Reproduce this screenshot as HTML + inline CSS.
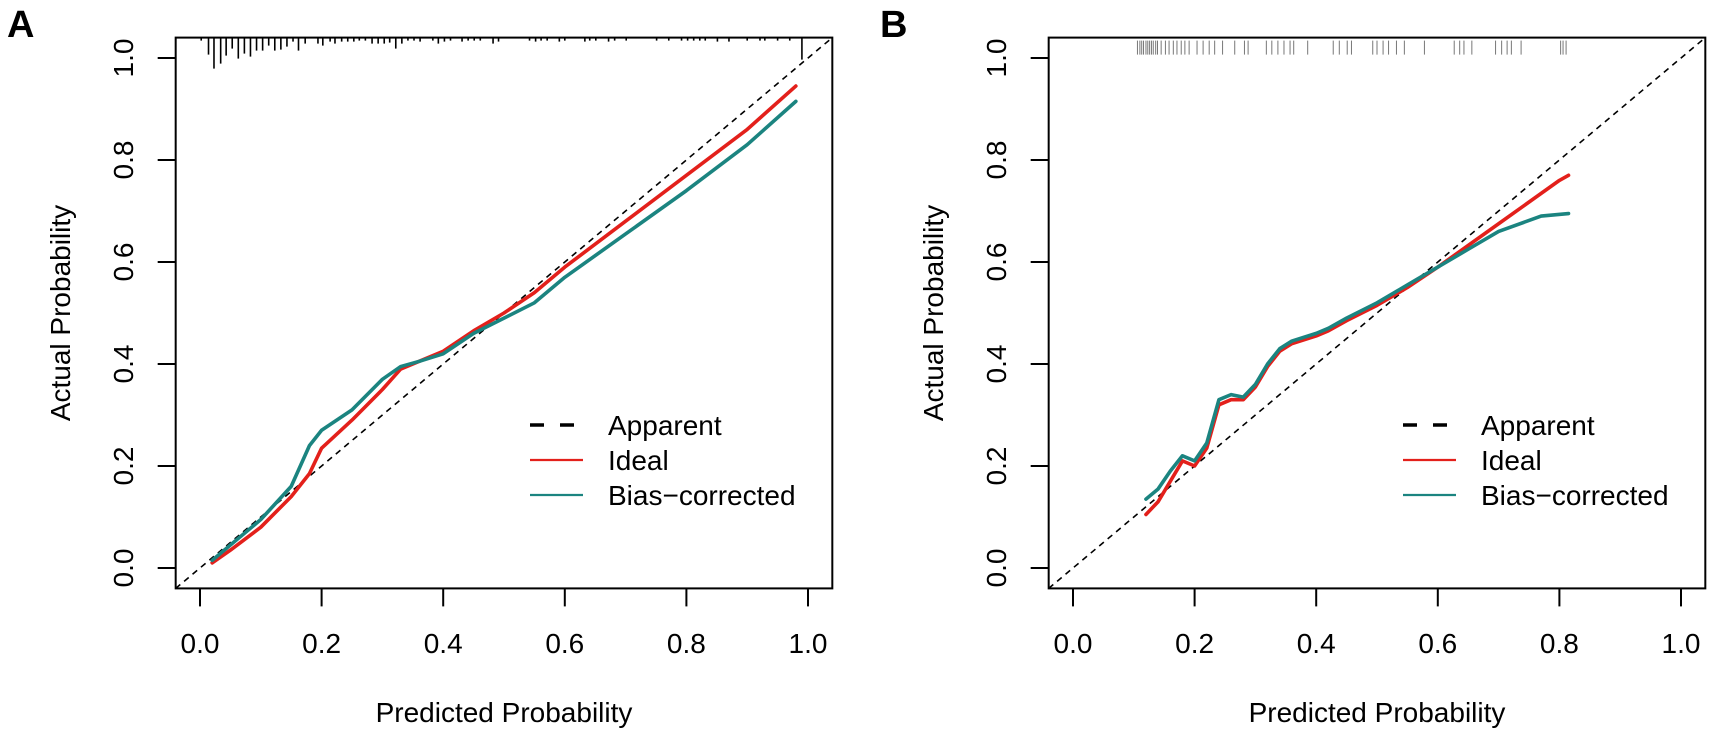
<!DOCTYPE html>
<html><head><meta charset="utf-8"><style>
html,body{margin:0;padding:0;background:#fff}
svg{display:block;font-family:"Liberation Sans",Arial,sans-serif}
</style></head><body>
<svg id="fig" width="1713" height="735" viewBox="0 0 1713 735"></svg>
<script>
// ---- Panel A data ----
const aIdealX=[0.02,0.05,0.1,0.15,0.18,0.2,0.25,0.3,0.33,0.36,0.4,0.45,0.5,0.55,0.6,0.7,0.8,0.9,0.98];
const aIdealY=[0.01,0.035,0.08,0.14,0.185,0.235,0.29,0.35,0.39,0.405,0.425,0.465,0.5,0.54,0.59,0.68,0.77,0.86,0.945];
const aBiasX=[0.02,0.05,0.1,0.15,0.18,0.2,0.25,0.3,0.33,0.36,0.4,0.45,0.5,0.55,0.6,0.7,0.8,0.9,0.98];
const aBiasY=[0.015,0.045,0.095,0.16,0.24,0.27,0.31,0.37,0.395,0.405,0.42,0.46,0.49,0.52,0.57,0.655,0.74,0.83,0.915];
const aRugX=[0.002,0.014,0.023,0.034,0.043,0.053,0.063,0.073,0.083,0.093,0.103,0.113,0.123,0.133,0.143,0.153,0.162,0.173,0.194,0.202,0.214,0.222,0.233,0.243,0.253,0.262,0.272,0.283,0.293,0.303,0.312,0.322,0.332,0.342,0.352,0.362,0.383,0.392,0.402,0.412,0.431,0.441,0.451,0.461,0.482,0.491,0.542,0.552,0.561,0.571,0.591,0.600,0.633,0.641,0.651,0.672,0.682,0.701,0.751,0.771,0.792,0.802,0.812,0.822,0.831,0.851,0.870,0.900,0.921,0.929,0.95,0.97,0.99];
const aRugCount=[3,17,31,26,18,11,21,16,19,13,13,8,13,12,9,4,13,6,6,8,4,6,4,4,4,3,3,6,6,6,5,11,6,3,3,4,3,6,4,3,4,3,3,3,6,4,3,4,3,3,4,3,4,3,3,4,3,3,3,3,3,3,3,3,3,4,4,3,3,3,3,3,22];
// ---- Panel B data ----
const bIdealX=[0.12,0.14,0.16,0.18,0.2,0.22,0.24,0.26,0.28,0.3,0.32,0.34,0.36,0.4,0.42,0.45,0.5,0.55,0.6,0.7,0.8,0.815];
const bIdealY=[0.105,0.13,0.17,0.21,0.2,0.235,0.32,0.33,0.33,0.355,0.395,0.425,0.44,0.455,0.465,0.485,0.515,0.55,0.59,0.675,0.76,0.77];
const bBiasX=[0.12,0.14,0.16,0.18,0.2,0.22,0.24,0.26,0.28,0.3,0.32,0.34,0.36,0.4,0.42,0.45,0.5,0.55,0.6,0.65,0.7,0.77,0.815];
const bBiasY=[0.135,0.155,0.19,0.22,0.21,0.245,0.33,0.34,0.335,0.36,0.4,0.43,0.445,0.46,0.47,0.49,0.52,0.555,0.59,0.625,0.66,0.69,0.695];
const bRugX=[0.106,0.110,0.113,0.116,0.120,0.123,0.126,0.129,0.132,0.136,0.139,0.145,0.152,0.158,0.165,0.171,0.178,0.184,0.191,0.204,0.214,0.224,0.233,0.246,0.266,0.282,0.288,0.318,0.327,0.337,0.347,0.357,0.363,0.386,0.428,0.438,0.451,0.458,0.493,0.500,0.510,0.519,0.532,0.545,0.578,0.627,0.636,0.643,0.656,0.695,0.705,0.714,0.721,0.737,0.802,0.806,0.811];
const tickVals=[0,0.2,0.4,0.6,0.8,1.0];
const tickLabels=["0.0","0.2","0.4","0.6","0.8","1.0"];
const legendLabels=["Apparent","Ideal","Bias\u2212corrected"];

const NS="http://www.w3.org/2000/svg";
const svg=document.getElementById('fig');
const RED="#e3201b", TEAL="#1b8480";
function mk(tag,attrs,parent){const e=document.createElementNS(NS,tag);for(const k in attrs)e.setAttribute(k,attrs[k]);(parent||svg).appendChild(e);return e;}

function panel(off,letter,idealX,idealY,biasX,biasY,rugFn,legX,legY){
  const x0=200+off, y0=568, W=608, H=510;
  const sx=v=>x0+v*W, sy=v=>y0-v*H;
  const g=mk('g',{});
  
  
  const L=sx(-0.04),R=sx(1.04),T=sy(1.04),B=sy(-0.04);
  const cid='clip'+letter;
  const cp=mk('clipPath',{id:cid},g); mk('rect',{x:L,y:T,width:R-L,height:B-T},cp);
  const d=mk('line',{x1:sx(-0.04),y1:sy(-0.04),x2:sx(1.04),y2:sy(1.04),stroke:'#000','stroke-width':1.6,'stroke-dasharray':'6 5','clip-path':'url(#'+cid+')'},g);
  
  
  const line=(xs,ys,c,name)=>{const p=mk('polyline',{points:xs.map((v,i)=>sx(v)+','+sy(ys[i])).join(' '),fill:'none',stroke:c,'stroke-width':3.6,'stroke-linejoin':'round','stroke-linecap':'round'},g);
    
    };
  line(idealX,idealY,RED,'ideal-line');
  line(biasX,biasY,TEAL,'bias-corrected-line');
  rugFn(g,sx,T);
  const bx=mk('rect',{x:L,y:T,width:R-L,height:B-T,fill:'none',stroke:'#000','stroke-width':2},g);
  
  
  tickVals.forEach((v,i)=>{
    mk('line',{x1:sx(v),y1:B,x2:sx(v),y2:B+18,stroke:'#000','stroke-width':2},g);
    const t=mk('text',{x:sx(v),y:653,'font-size':28,'text-anchor':'middle'},g);t.textContent=tickLabels[i];
    
    
    mk('line',{x1:L,y1:sy(v),x2:L-18,y2:sy(v),stroke:'#000','stroke-width':2},g);
    const ty=mk('text',{x:0,y:0,'font-size':28,'text-anchor':'middle',transform:'translate('+(133+off)+','+sy(v)+') rotate(-90)'},g);ty.textContent=tickLabels[i];
    
    
  });
  const xt=mk('text',{x:(L+R)/2,y:722,'font-size':28,'text-anchor':'middle'},g);xt.textContent='Predicted Probability';
  
  
  const yt=mk('text',{x:0,y:0,'font-size':28,'text-anchor':'middle',transform:'translate('+(70+off)+','+((T+B)/2)+') rotate(-90)'},g);yt.textContent='Actual Probability';
  
  
  const pl=mk('text',{x:7+off,y:37,'font-size':38,'font-weight':'bold'},g);pl.textContent=letter;
  
  
  const lg=mk('g',{},g);
  
  
  const styles=[{c:'#000',w:3.5,da:'14 16'},{c:RED,w:2.2,da:''},{c:TEAL,w:2.2,da:''}];
  legendLabels.forEach((lab,i)=>{
    const yy=legY+i*35;
    const s=mk('line',{x1:legX,y1:yy,x2:legX+53,y2:yy,stroke:styles[i].c,'stroke-width':styles[i].w},lg);
    if(styles[i].da)s.setAttribute('stroke-dasharray',styles[i].da);
    const t=mk('text',{x:legX+78,y:yy+10,'font-size':28},lg);t.textContent=lab;
    
    
  });
}

panel(0,'A',aIdealX,aIdealY,aBiasX,aBiasY,(g,sx,T)=>{
  aRugX.forEach((v,i)=>{
    const r=mk('line',{x1:sx(v),y1:T,x2:sx(v),y2:T+aRugCount[i],stroke:'#000','stroke-width':1.6},g);
    
    
  });
},530,425);

panel(873,'B',bIdealX,bIdealY,bBiasX,bBiasY,(g,sx,T)=>{
  bRugX.forEach(v=>{
    const r=mk('line',{x1:sx(v),y1:T+3,x2:sx(v),y2:T+17,stroke:'#777','stroke-width':1},g);
    
    
  });
},1403,425);
</script>
</body></html>
